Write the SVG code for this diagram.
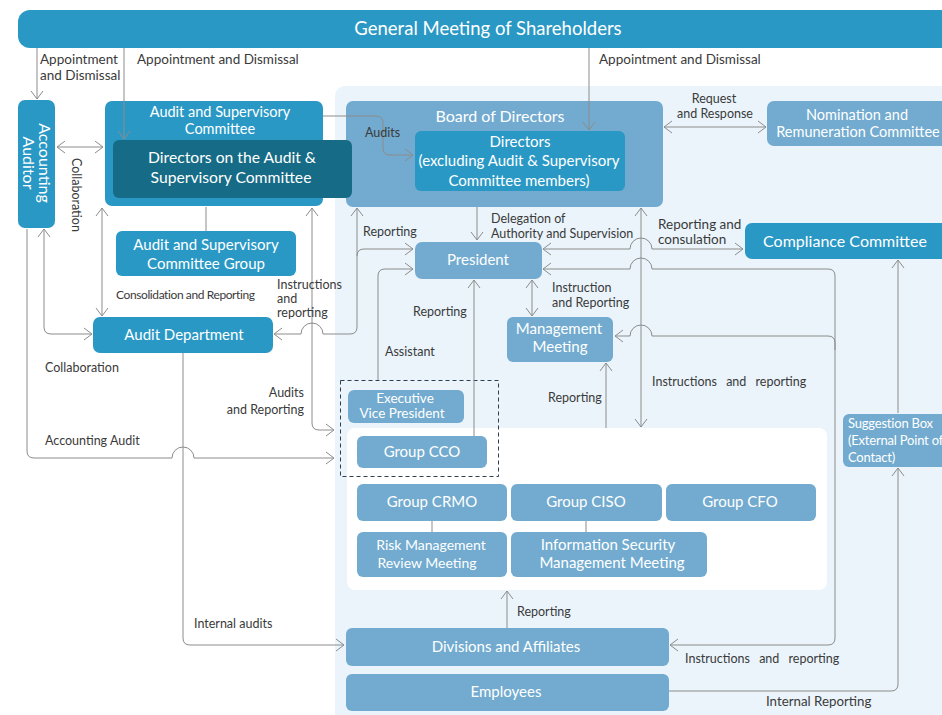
<svg xmlns="http://www.w3.org/2000/svg" width="942" height="715" viewBox="0 0 942 715">
  <defs>
    <style>
      .bg { fill: #ffffff; }
      .panel { fill: #eaf4fa; }
      .inner { fill: #ffffff; }
      .teal { fill: #2a98c5; }
      .dark { fill: #166c86; }
      .light { fill: #72abcf; }
      .dash { fill: none; stroke: #2e3f4f; stroke-width: 1; stroke-dasharray: 4 3; }
      .c { fill: none; stroke: #8c8c8c; stroke-width: 1; }
      .a { marker-end: url(#ah); }
      .aa { marker-start: url(#ah); marker-end: url(#ah); }
      .as { marker-start: url(#ah); }
      text { font-family: Lato, "Open Sans", "Liberation Sans", sans-serif; }
      .nt { fill: #ffffff; text-anchor: middle; font-size: 15px; }
      .lb { fill: #3a3a3a; font-size: 12.5px; }
      .big { font-size: 13.5px; }
      .wide { word-spacing: 6px; }
      .mid { text-anchor: middle; }
      .end { text-anchor: end; }
    </style>
    <marker id="ah" viewBox="-10 -8 12 16" markerWidth="12" markerHeight="16" refX="0" refY="0" orient="auto-start-reverse" markerUnits="userSpaceOnUse">
      <path d="M-8,-6 L0,0 L-8,6" fill="none" stroke="#8c8c8c" stroke-width="1"/>
    </marker>
  </defs>

  <rect class="bg" x="0" y="0" width="942" height="715"/>
  <!-- executive area backdrop -->
  <rect class="panel" x="335" y="86" width="620" height="640" rx="10"/>
  <rect class="inner" x="347" y="428" width="480" height="162" rx="8"/>

  <!-- nodes -->
  <g id="shareholders">
    <rect class="teal" x="18" y="10" width="940" height="38" rx="12"/>
    <text class="nt" x="488" y="35" style="font-size:18.5px">General Meeting of Shareholders</text>
  </g>

  <g id="accounting-auditor">
    <rect class="teal" x="18" y="100" width="37" height="128" rx="7"/>
    <text class="nt" transform="translate(37,163) rotate(90)" x="0" y="-2" style="font-size:16px">Accounting</text>
    <text class="nt" transform="translate(37,163) rotate(90)" x="0" y="14" style="font-size:16px">Auditor</text>
  </g>

  <g id="audit-supervisory-committee">
    <rect class="teal" x="105" y="101" width="218" height="105" rx="7"/>
    <text class="nt" x="220" y="117" style="font-size:14.5px">Audit and Supervisory</text>
    <text class="nt" x="220" y="134" style="font-size:14.5px">Committee</text>
  </g>

  <g id="board-of-directors">
    <rect class="light" x="346" y="101" width="317" height="106" rx="7"/>
    <text class="nt" x="500" y="122" style="font-size:16px">Board of Directors</text>
  </g>

  <g id="audit-committee-directors">
    <rect class="dark" x="113" y="140" width="239" height="58" rx="6"/>
    <text class="nt" x="232" y="163" style="font-size:15.7px">Directors on the Audit &amp;</text>
    <text class="nt" x="231" y="183" style="font-size:15.7px">Supervisory Committee</text>
  </g>

  <g id="directors">
    <rect class="teal" x="415" y="131" width="210" height="60" rx="6"/>
    <text class="nt" x="520" y="147">Directors</text>
    <text class="nt" x="519" y="166">(excluding Audit &amp; Supervisory</text>
    <text class="nt" x="519" y="186">Committee members)</text>
  </g>

  <g id="nomination-remuneration">
    <rect class="light" x="767" y="101" width="190" height="45" rx="7"/>
    <text class="nt" x="857" y="120" style="font-size:14.5px">Nomination and</text>
    <text class="nt" x="858" y="137" style="font-size:14.5px">Remuneration Committee</text>
  </g>

  <g id="compliance-committee">
    <rect class="teal" x="745" y="223" width="210" height="36" rx="7"/>
    <text class="nt" x="845" y="247" style="font-size:16px">Compliance Committee</text>
  </g>

  <g id="audit-committee-group">
    <rect class="teal" x="116" y="231" width="180" height="45" rx="6"/>
    <text class="nt" x="206" y="250">Audit and Supervisory</text>
    <text class="nt" x="206" y="269">Committee Group</text>
  </g>

  <g id="audit-department">
    <rect class="teal" x="93" y="317" width="180" height="36" rx="7"/>
    <text class="nt" x="184" y="340">Audit Department</text>
  </g>

  <g id="president">
    <rect class="light" x="415" y="242" width="127" height="37" rx="7"/>
    <text class="nt" x="478" y="265">President</text>
  </g>

  <g id="management-meeting">
    <rect class="light" x="507" y="317" width="106" height="45" rx="6"/>
    <text class="nt" x="559" y="334">Management</text>
    <text class="nt" x="560" y="352">Meeting</text>
  </g>

  <g id="officer-group">
    <rect class="dash" x="340.5" y="380.5" width="158" height="96"/>
  </g>

  <g id="executive-vice-president">
    <rect class="light" x="348" y="390" width="116" height="33" rx="6"/>
    <text class="nt" x="405" y="403" style="font-size:13.5px">Executive</text>
    <text class="nt" x="402" y="418" style="font-size:13.5px">Vice President</text>
  </g>

  <g id="group-cco">
    <rect class="light" x="357" y="436" width="130" height="32" rx="6"/>
    <text class="nt" x="422" y="457">Group CCO</text>
  </g>

  <g id="group-crmo">
    <rect class="light" x="357" y="484" width="150" height="37" rx="6"/>
    <text class="nt" x="432" y="507">Group CRMO</text>
  </g>

  <g id="group-ciso">
    <rect class="light" x="511" y="484" width="151" height="37" rx="6"/>
    <text class="nt" x="586" y="507">Group CISO</text>
  </g>

  <g id="group-cfo">
    <rect class="light" x="666" y="484" width="150" height="37" rx="6"/>
    <text class="nt" x="740" y="507">Group CFO</text>
  </g>

  <g id="risk-management-review">
    <rect class="light" x="357" y="532" width="150" height="45" rx="6"/>
    <text class="nt" x="431" y="550" style="font-size:14px">Risk Management</text>
    <text class="nt" x="427" y="568" style="font-size:14px">Review Meeting</text>
  </g>

  <g id="information-security-meeting">
    <rect class="light" x="511" y="532" width="196" height="45" rx="6"/>
    <text class="nt" x="608" y="550">Information Security</text>
    <text class="nt" x="612" y="568">Management Meeting</text>
  </g>

  <g id="suggestion-box">
    <rect class="light" x="843" y="414" width="110" height="53" rx="6"/>
    <text class="nt" x="848" y="428" style="text-anchor:start;font-size:13px;letter-spacing:-0.2px">Suggestion Box</text>
    <text class="nt" x="848" y="445" style="text-anchor:start;font-size:13px;letter-spacing:-0.2px">(External Point of</text>
    <text class="nt" x="848" y="462" style="text-anchor:start;font-size:13px;letter-spacing:-0.2px">Contact)</text>
  </g>

  <g id="divisions-affiliates">
    <rect class="light" x="346" y="628" width="323" height="38" rx="6"/>
    <text class="nt" x="506" y="652">Divisions and Affiliates</text>
  </g>

  <g id="employees">
    <rect class="light" x="346" y="674" width="323" height="37" rx="6"/>
    <text class="nt" x="506" y="697">Employees</text>
  </g>

  <!-- connectors -->
  <g id="connectors">
    <path class="c a" d="M37,48 V99"/>
    <path class="c a" d="M124,48 V139"/>
    <path class="c a" d="M589,48 V130"/>
    <path class="c aa" d="M57,147 H103"/>
    <path class="c aa" d="M44,229 V327 Q44,334 51,334 H92"/>
    <path class="c a" d="M27,229 V451 Q27,458 34,458 H172 A11,11 0 0 1 194,458 H334"/>
    <path class="c aa" d="M102,208 V316"/>
    <path class="c" d="M206,207 V231"/>
    <path class="c aa" d="M312,208 V423 Q312,430 319,430 H334"/>
    <path class="c aa" d="M357,208 V327 Q357,334 350,334 H323 A11,11 0 0 0 301,334 H274"/>
    <path class="c a" d="M357,256 Q357,249 364,249 H413"/>
    <path class="c a" d="M378,380 V276 Q378,269 385,269 H413"/>
    <path class="c a" d="M474,436 V280"/>
    <path class="c a" d="M477,207 V240"/>
    <path class="c aa" d="M532,280 V316"/>
    <path class="c aa" d="M641,208 V427"/>
    <path class="c aa" d="M543,249 H630 A11,11 0 0 1 652,249 H743"/>
    <path class="c aa" d="M543,269 H630 A11,11 0 0 1 652,269 H828 Q835,269 835,276 V638 Q835,645 828,645 H670"/>
    <path class="c as" d="M615,336 H630 A11,11 0 0 1 652,336 H828 Q835,336 835,343 V350"/>
    <path class="c a" d="M606,428 V363"/>
    <path class="c a" d="M507,628 V591"/>
    <path class="c a" d="M183,353 V638 Q183,645 190,645 H344"/>
    <path class="c a" d="M669,691 H891 Q898,691 898,684 V468"/>
    <path class="c a" d="M898,413 V260"/>
    <path class="c aa" d="M664,127 H766"/>
    <path class="c a" d="M323,116 H376 Q383,116 383,123 V148 Q383,155 390,155 H413"/>
    <path class="c" d="M432,521 V532"/>
    <path class="c" d="M586,521 V532"/>
  </g>

  <!-- connector labels -->
  <g id="labels">
    <text class="lb big" x="40" y="64">Appointment</text>
    <text class="lb big" x="40" y="80">and Dismissal</text>
    <text class="lb big" x="137" y="64">Appointment and Dismissal</text>
    <text class="lb big" x="599" y="64">Appointment and Dismissal</text>
    <text class="lb" x="365" y="137">Audits</text>
    <text class="lb mid" x="714" y="103">Request</text>
    <text class="lb mid" x="715" y="118">and Response</text>
    <text class="lb" transform="translate(72,158) rotate(90)" x="0" y="0">Collaboration</text>
    <text class="lb" x="363" y="236">Reporting</text>
    <text class="lb" x="491" y="223">Delegation of</text>
    <text class="lb" x="491" y="238">Authority and Supervision</text>
    <text class="lb" x="658" y="229" style="font-size:13.5px">Reporting and</text>
    <text class="lb" x="658" y="244" style="font-size:13.5px">consulation</text>
    <text class="lb" x="116" y="299" style="font-size:12px;letter-spacing:-0.4px">Consolidation and Reporting</text>
    <text class="lb" x="277" y="289">Instructions</text>
    <text class="lb" x="277" y="303">and</text>
    <text class="lb" x="277" y="317">reporting</text>
    <text class="lb" x="552" y="292">Instruction</text>
    <text class="lb" x="552" y="307">and Reporting</text>
    <text class="lb" x="413" y="316">Reporting</text>
    <text class="lb" x="385" y="356">Assistant</text>
    <text class="lb" x="45" y="372">Collaboration</text>
    <text class="lb wide" x="652" y="386">Instructions and reporting</text>
    <text class="lb" x="548" y="402">Reporting</text>
    <text class="lb end" x="304" y="397">Audits</text>
    <text class="lb end" x="304" y="414">and Reporting</text>
    <text class="lb" x="45" y="445">Accounting Audit</text>
    <text class="lb" x="517" y="616">Reporting</text>
    <text class="lb" x="194" y="628">Internal audits</text>
    <text class="lb wide" x="685" y="663">Instructions and reporting</text>
    <text class="lb" x="766" y="706" style="font-size:13.3px">Internal Reporting</text>
  </g>
</svg>
